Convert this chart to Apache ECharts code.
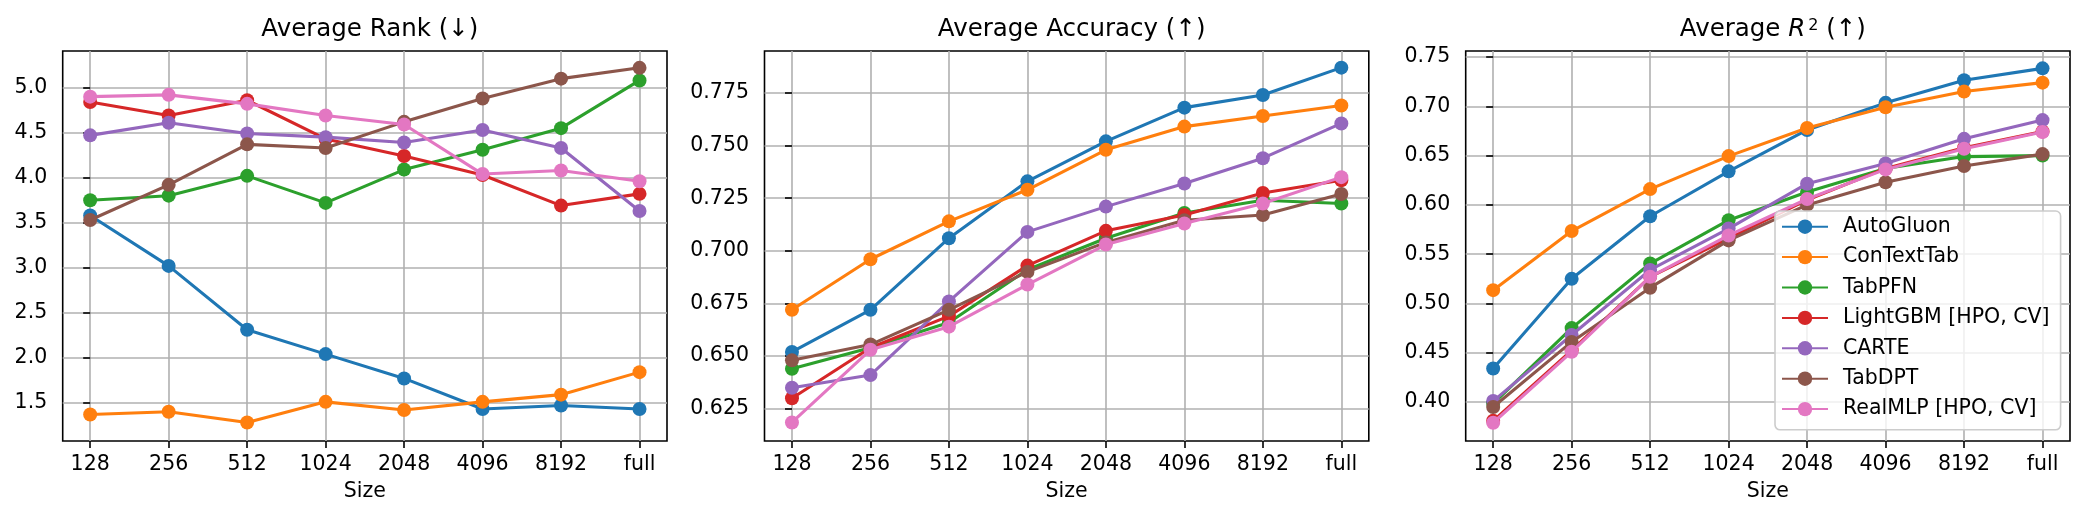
<!DOCTYPE html>
<html>
<head>
<meta charset="utf-8">
<script src="https://cdn.jsdelivr.net/npm/echarts@6/dist/echarts.min.js"></script>
<style>
html,body{margin:0;padding:0;background:#ffffff;}
#c{width:2086px;height:520px;}
</style>
</head>
<body>
<div id="c"></div>
<script>
// ---------------- data ----------------
const sizes = ['128', '256', '512', '1024', '2048', '4096', '8192', 'full'];
const methods = ['AutoGluon', 'ConTextTab', 'TabPFN', 'LightGBM [HPO, CV]', 'CARTE', 'TabDPT', 'RealMLP [HPO, CV]'];
const colors = ['#1f77b4', '#ff7f0e', '#2ca02c', '#d62728', '#9467bd', '#8c564b', '#e377c2'];

// Average Rank (one row per method, in the order of `methods`)
const rankData = [
  [3.58, 3.02, 2.31, 2.04, 1.77, 1.43, 1.47, 1.43],
  [1.37, 1.40, 1.28, 1.51, 1.42, 1.51, 1.59, 1.84],
  [3.75, 3.80, 4.02, 3.72, 4.09, 4.31, 4.55, 5.08],
  [4.84, 4.69, 4.86, 4.43, 4.24, 4.03, 3.69, 3.82],
  [4.47, 4.61, 4.49, 4.45, 4.39, 4.53, 4.33, 3.63],
  [3.53, 3.92, 4.37, 4.33, 4.62, 4.88, 5.10, 5.22],
  [4.90, 4.92, 4.82, 4.69, 4.59, 4.04, 4.08, 3.96]
];
// Average Accuracy
const accData = [
  [0.652, 0.672, 0.706, 0.733, 0.752, 0.768, 0.774, 0.787],
  [0.672, 0.696, 0.714, 0.729, 0.748, 0.759, 0.764, 0.769],
  [0.644, 0.654, 0.666, 0.691, 0.706, 0.718, 0.724, 0.7225],
  [0.630, 0.654, 0.669, 0.693, 0.7095, 0.717, 0.7275, 0.7335],
  [0.635, 0.641, 0.676, 0.709, 0.721, 0.732, 0.744, 0.7605],
  [0.648, 0.6555, 0.672, 0.690, 0.704, 0.7145, 0.717, 0.727],
  [0.6185, 0.653, 0.664, 0.684, 0.703, 0.713, 0.7225, 0.735]
];
// Average R^2
const r2Data = [
  [0.434, 0.525, 0.5885, 0.634, 0.676, 0.7035, 0.7265, 0.7385],
  [0.5135, 0.5735, 0.616, 0.6495, 0.678, 0.699, 0.715, 0.724],
  [0.3985, 0.475, 0.5405, 0.5845, 0.613, 0.637, 0.649, 0.650],
  [0.381, 0.4525, 0.527, 0.566, 0.605, 0.637, 0.658, 0.6745],
  [0.401, 0.468, 0.534, 0.576, 0.6215, 0.642, 0.667, 0.686],
  [0.395, 0.461, 0.516, 0.564, 0.600, 0.623, 0.6395, 0.6515],
  [0.379, 0.451, 0.527, 0.569, 0.606, 0.636, 0.657, 0.674]
];

// tick labels
const rankTicks = [1.5, 2.0, 2.5, 3.0, 3.5, 4.0, 4.5, 5.0];
const accTicks = [0.625, 0.650, 0.675, 0.700, 0.725, 0.750, 0.775];
const r2Ticks = [0.40, 0.45, 0.50, 0.55, 0.60, 0.65, 0.70, 0.75];

const titles = [
  'Average Rank (↓)',
  'Average Accuracy (↑)',
  '{t|Average }{i|R}{s|2}{t| (↑)}'
];
const yExtents = [[1.075, 5.407], [0.6097, 0.7949], [0.3605, 0.7561]];
const yTicks = [rankTicks, accTicks, r2Ticks];
const yDecimals = [1, 3, 2];
const panelData = [rankData, accData, r2Data];

// ---------------- layout / style ----------------
const FONT = 'DejaVu Sans';
const TICK_FS = 20.5;
const TITLE_FS = 24.5;
const gridLefts = [62.7, 764.5, 1465.7];
const gridTop = 51, gridW = 604.3, gridH = 390;
const xIdx = sizes.map((s, i) => i);

const option = {
  animation: false,
  backgroundColor: '#ffffff',
  title: titles.map((t, i) => ({
    text: t,
    left: gridLefts[i] + gridW / 2,
    top: 12,
    textAlign: 'center',
    textStyle: {
      fontSize: TITLE_FS, fontWeight: 'normal', color: '#000', fontFamily: FONT,
      rich: {
        t: { fontSize: TITLE_FS, color: '#000', fontFamily: FONT },
        i: { fontSize: TITLE_FS, color: '#000', fontFamily: FONT, fontStyle: 'italic' },
        s: { fontSize: 16, color: '#000', fontFamily: FONT, padding: [0, 0, 7, 3] }
      }
    }
  })),
  grid: gridLefts.map(l => ({
    left: l, top: gridTop, width: gridW, height: gridH,
    show: true, borderColor: '#000', borderWidth: 1.6, backgroundColor: 'transparent'
  })),
  xAxis: gridLefts.map((l, i) => ({
    type: 'value', gridIndex: i,
    min: -0.35, max: 7.35, minInterval: 1, maxInterval: 1,
    axisLine: { show: false },
    axisTick: { show: true, inside: false, length: 7, lineStyle: { color: '#000', width: 1.6 }, customValues: xIdx },
    axisLabel: {
      customValues: xIdx,
      formatter: v => (Math.abs(v - Math.round(v)) < 1e-6 && sizes[Math.round(v)] !== undefined) ? sizes[Math.round(v)] : '',
      margin: 13.3, fontSize: TICK_FS, color: '#000', fontFamily: FONT
    },
    splitLine: { show: true, lineStyle: { color: '#b0b0b0', width: 1.6 } },
    name: 'Size', nameLocation: 'middle', nameGap: 40.5,
    nameTextStyle: { fontSize: TICK_FS, color: '#000', fontFamily: FONT }
  })),
  yAxis: gridLefts.map((l, i) => {
    const step = yTicks[i][1] - yTicks[i][0];
    return {
      type: 'value', gridIndex: i,
      min: yExtents[i][0], max: yExtents[i][1],
      minInterval: step, maxInterval: step,
      axisLine: { show: false },
      axisTick: { show: true, inside: false, length: 7, lineStyle: { color: '#000', width: 1.6 }, customValues: yTicks[i] },
      axisLabel: {
        customValues: yTicks[i],
        formatter: v => {
          const k = (v - yTicks[i][0]) / step;
          return Math.abs(k - Math.round(k)) < 1e-4 ? v.toFixed(yDecimals[i]) : '';
        },
        margin: 15.5, fontSize: TICK_FS, color: '#000', fontFamily: FONT
      },
      splitLine: { show: true, lineStyle: { color: '#b0b0b0', width: 1.6 } }
    };
  }),
  legend: {
    show: true,
    data: methods,
    orient: 'vertical',
    left: 1775, top: 211,
    itemWidth: 46, itemHeight: 18, itemGap: 8.4,
    padding: [4.7, 11, 9.7, 6],
    backgroundColor: 'rgba(255,255,255,0.8)',
    borderColor: '#cccccc', borderWidth: 1.6, borderRadius: 5,
    selectedMode: false,
    z: 100,
    textStyle: { fontSize: TICK_FS, color: '#000', fontFamily: FONT, lineHeight: 22, padding: [0, 0, 0, 10] }
  },
  series: []
};

panelData.forEach((pd, i) => {
  pd.forEach((vals, j) => {
    option.series.push({
      type: 'line',
      name: methods[j],
      xAxisIndex: i, yAxisIndex: i,
      data: vals.map((v, k) => [k, v]),
      symbol: 'circle', symbolSize: 14,
      lineStyle: { width: 3.1, color: colors[j] },
      itemStyle: { color: colors[j], borderWidth: 0 },
      emphasis: { disabled: true },
      z: 10 + j
    });
  });
});

const chart = echarts.init(document.getElementById('c'));
chart.setOption(option);
</script>
</body>
</html>
